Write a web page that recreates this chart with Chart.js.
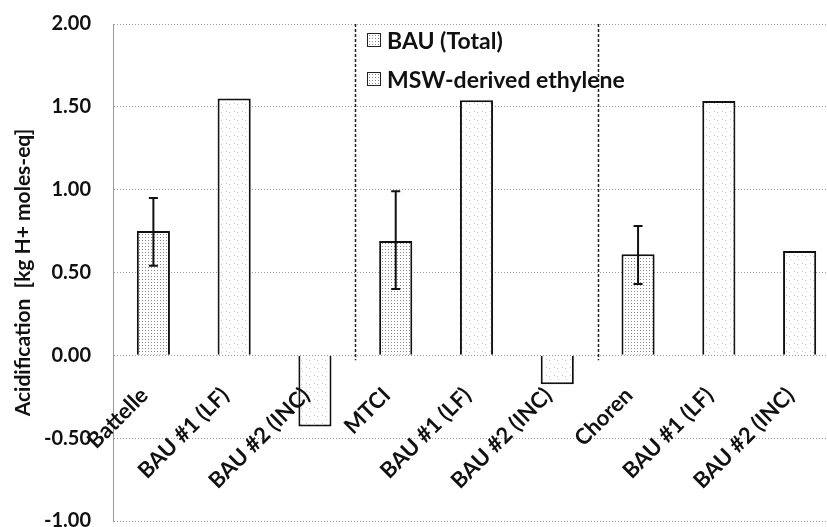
<!DOCTYPE html>
<html>
<head>
<meta charset="utf-8">
<script src="https://cdn.jsdelivr.net/npm/chart.js@4.4.1/dist/chart.umd.min.js"></script>
<style>
  html, body { margin: 0; padding: 0; background: #fff; overflow: hidden; }
  #wrap { position: relative; top: -10px; width: 840px; height: 565px; }
  #legend { position: absolute; left: 367px; top: 30px; font-family: Lato, sans-serif; font-weight: bold; font-size: 23px; color: #111; }
  .item { display: flex; align-items: center; height: 39px; }
  .box { width: 12px; height: 12px; border: 1px solid #222; margin-right: 6px; background-color: #fff;
         background-image: radial-gradient(#888 0.7px, transparent 0.9px); background-size: 3px 3px; }
</style>
</head>
<body>
<div id="wrap">
  <canvas id="c"></canvas>
  <div id="legend"></div>
</div>
<script>
// ---- data ----
const categories = ['Battelle', 'BAU #1 (LF)', 'BAU #2 (INC)', 'MTCI', 'BAU #1 (LF)', 'BAU #2 (INC)', 'Choren', 'BAU #1 (LF)', 'BAU #2 (INC)'];
const seriesNames = ['BAU (Total)', 'MSW-derived ethylene'];
const bauTotal = [null, 1.55, -0.43, null, 1.54, -0.175, null, 1.535, 0.63];
const mswEthylene = [0.75, null, null, 0.69, null, null, 0.61, null, null];
const mswErrLow = [0.54, null, null, 0.40, null, null, 0.43, null, null];
const mswErrHigh = [0.95, null, null, 0.99, null, null, 0.78, null, null];
const groupStarts = [3, 6];
const yTicks = [-1.0, -0.5, 0.0, 0.5, 1.0, 1.5, 2.0];

function makePattern(size, dots, dotColor) {
  const c = document.createElement('canvas');
  c.width = size; c.height = size;
  const g = c.getContext('2d');
  g.fillStyle = '#ffffff'; g.fillRect(0, 0, size, size);
  g.fillStyle = dotColor;
  dots.forEach(d => g.fillRect(d[0], d[1], 1, 1));
  return g.createPattern(c, 'repeat');
}
const ctx = document.getElementById('c').getContext('2d');
const bauFill = makePattern(8, [[2, 1], [6, 5], [5, 2]], '#c8c8c8');
const mswFill = makePattern(3, [[1, 1]], '#8a8a8a');

// legend
const legend = document.getElementById('legend');
seriesNames.forEach(n => {
  const it = document.createElement('div'); it.className = 'item';
  const b = document.createElement('span'); b.className = 'box';
  const t = document.createElement('span'); t.textContent = n;
  it.appendChild(b); it.appendChild(t); legend.appendChild(it);
});

const errorBars = {
  id: 'errorBars',
  afterDatasetsDraw(chart) {
    const {ctx, scales: {x, y}} = chart;
    ctx.save();
    ctx.strokeStyle = '#111'; ctx.lineWidth = 2;
    mswErrLow.forEach((lo, i) => {
      if (lo === null) return;
      const px = x.getPixelForValue(i);
      const yl = y.getPixelForValue(lo), yh = y.getPixelForValue(mswErrHigh[i]);
      ctx.beginPath();
      ctx.moveTo(px, yl); ctx.lineTo(px, yh);
      ctx.moveTo(px - 4.5, yl); ctx.lineTo(px + 4.5, yl);
      ctx.moveTo(px - 4.5, yh); ctx.lineTo(px + 4.5, yh);
      ctx.stroke();
    });
    ctx.restore();
  }
};
const separators = {
  id: 'separators',
  beforeDatasetsDraw(chart) {
    const {ctx, chartArea, scales: {x, y}} = chart;
    ctx.save();
    ctx.strokeStyle = '#222'; ctx.lineWidth = 1.5; ctx.setLineDash([3, 2]);
    groupStarts.forEach(s => {
      const px = Math.round((x.getPixelForValue(s - 1) + x.getPixelForValue(s)) / 2) + 0.5;
      ctx.beginPath();
      ctx.moveTo(px, chartArea.top);
      ctx.lineTo(px, y.getPixelForValue(0) + 5);
      ctx.stroke();
    });
    ctx.restore();
  }
};

const font = (size) => ({ family: 'Lato', weight: 'bold', size });

new Chart(ctx, {
  type: 'bar',
  data: {
    labels: categories,
    datasets: [
      { label: seriesNames[0], data: bauTotal, backgroundColor: bauFill, borderColor: '#111', borderWidth: 2,
        grouped: false, barPercentage: 0.41, categoryPercentage: 1 },
      { label: seriesNames[1], data: mswEthylene, backgroundColor: mswFill, borderColor: '#111', borderWidth: 2,
        grouped: false, barPercentage: 0.41, categoryPercentage: 1 }
    ]
  },
  options: {
    responsive: true, maintainAspectRatio: false, animation: false, devicePixelRatio: 1,
    layout: { padding: { top: 13, right: 0, bottom: 0, left: 0 } },
    plugins: { legend: { display: false }, tooltip: { enabled: false } },
    scales: {
      x: {
        position: { y: 0 }, offset: true,
        grid: { display: false }, border: { display: false },
        ticks: { z: 1, autoSkip: false, maxRotation: 45, minRotation: 45, padding: 19, labelOffset: -9, color: '#111', font: font(22) }
      },
      y: {
        min: -1, max: 2,
        afterFit(s) { s.width = 113; },
        afterBuildTicks(s) { s.ticks = yTicks.map(v => ({ value: v })); },
        ticks: { color: '#111', font: font(20), padding: 22, callback: v => Number(v).toFixed(2) },
        grid: { color: '#9a9a9a', lineWidth: 1, drawTicks: false },
        border: { display: true, color: '#9a9a9a', width: 1, dash: [1, 2] },
        title: { display: true, text: 'Acidification  [kg H+ moles-eq]', color: '#111', font: font(21), padding: { top: 11 } }
      }
    }
  },
  plugins: [separators, errorBars]
});
</script>
</body>
</html>
